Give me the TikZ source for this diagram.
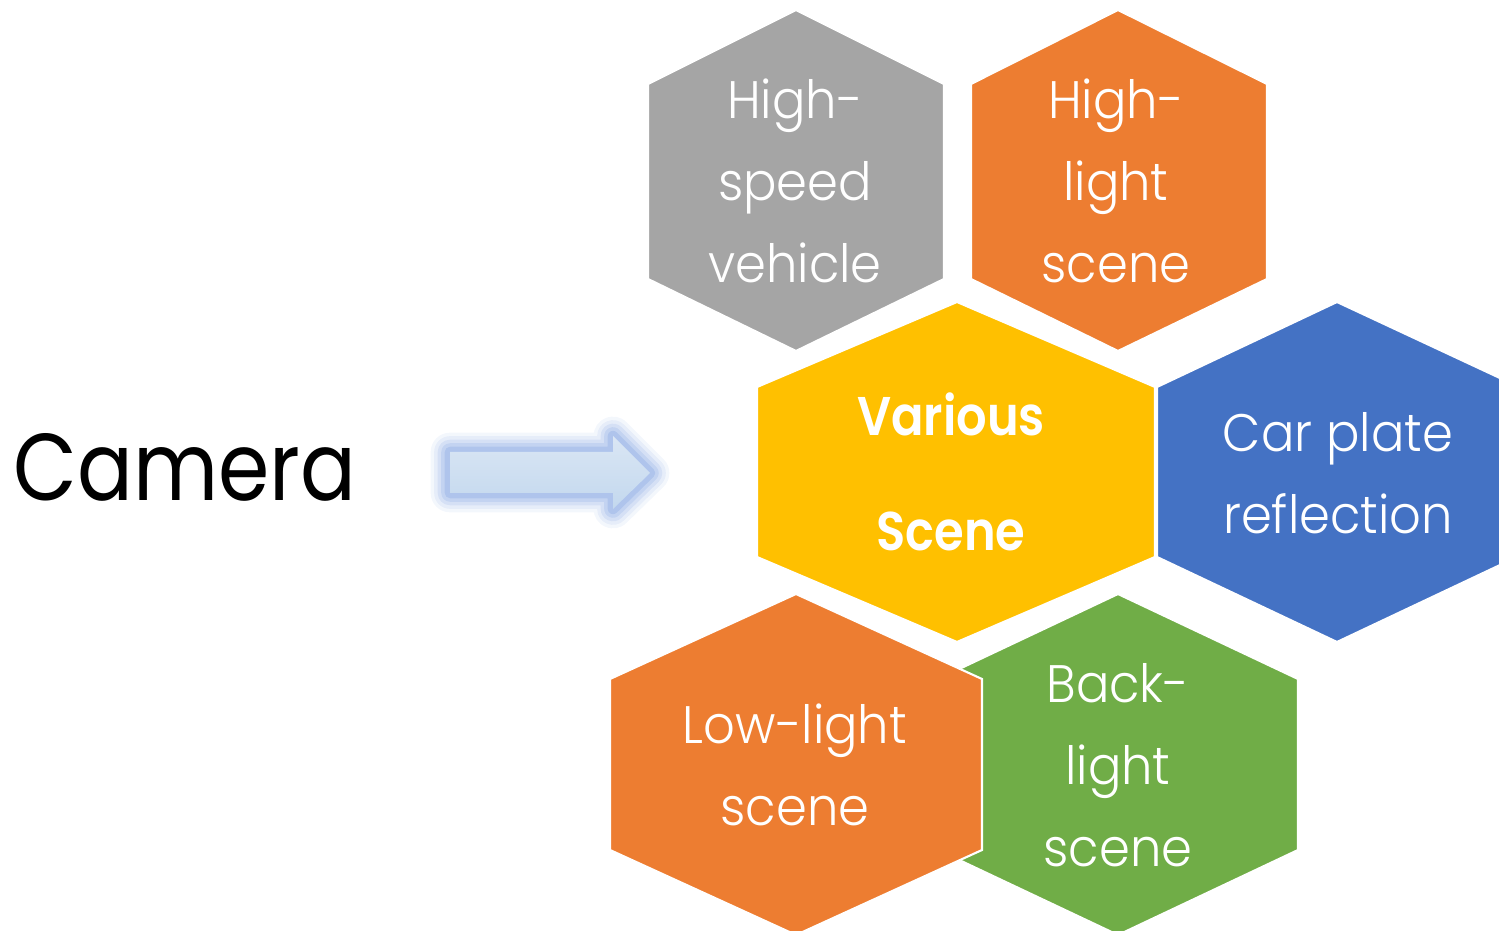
\documentclass[tikz,border=0pt]{standalone}
\usepackage{fontspec}
\setmainfont{Poppins}
\newfontfamily\camfont{Poppins}[FakeStretch=0.87]
\newfontfamily\lightfont{Poppins Light}[FakeStretch=0.94]
\newfontfamily\semibfont{Poppins SemiBold}[FakeStretch=0.88]
\usetikzlibrary{positioning}

\definecolor{hexgray}{HTML}{A5A5A5}
\definecolor{hexorange}{HTML}{ED7D31}
\definecolor{hexyellow}{HTML}{FFC000}
\definecolor{hexblue}{HTML}{4472C4}
\definecolor{hexgreen}{HTML}{70AD47}
\definecolor{glowblue}{HTML}{5B87D8}
\definecolor{arrowtop}{HTML}{DAE6F4}
\definecolor{arrowbottom}{HTML}{C3D8EE}

\begin{document}
\begin{tikzpicture}[x=0.01cm,y=-0.01cm,
                hexa/.style={draw=white,line width=0.6pt},
                hexlabel/.style={text=white,align=center,font=\lightfont\fontsize{15}{23.3}\selectfont}
                ]
                \useasboundingbox (0,0) rectangle (1499,931);
                \clip (0,0) rectangle (1499,931);
                % hexagons
                \draw [hexa,fill=hexgray] (796,10) -- (944,84) -- (944,279) -- (796,351) -- (648,279) -- (648,84) -- cycle;
                \draw [hexa,fill=hexorange] (1118,10) -- (1267,84) -- (1267,279) -- (1118,351) -- (971,279) -- (971,84) -- cycle;
                \draw [hexa,fill=hexyellow] (957,302) -- (1155,387) -- (1155,557) -- (957,642) -- (757,557) -- (757,387) -- cycle;
                \draw [hexa,fill=hexblue] (1337,302) -- (1517,386) -- (1517,557) -- (1337,642) -- (1157,557) -- (1157,387) -- cycle;
                \draw [hexa,fill=hexgreen] (1118,594) -- (1298,679) -- (1298,850) -- (1118,935) -- (938,850) -- (938,679) -- cycle;
                \draw [hexa,fill=hexorange] (796,594) -- (982,679) -- (982,850) -- (796,935) -- (610,850) -- (610,679) -- cycle;
                % labels
                \node [hexlabel] (speed) at (795,181) {High-\\speed\\vehicle};
                \node [hexlabel] (highlight) at (1116,181) {High-\\light\\scene};
                \node [hexlabel,font=\semibfont\fontsize{15.5}{23.3}\selectfont] (various) at (951,472) {Various\\[9.5pt]Scene};
                \node [hexlabel] (plate) at (1338,473) {Car plate\\reflection};
                \node [hexlabel] (lowlight) at (795,765) {Low-light\\scene};
                \node [hexlabel] (backlight) at (1118,765) {Back-\\light\\scene};
                \node [font=\camfont\fontsize{27}{32}\selectfont] (camera) at (185,467) {Camera};
                % block arrow with glow
                \foreach \w/\o in {11/0.07,9/0.09,7/0.12,5/0.15,3/0.2}
                    \draw [glowblue,line width=\w pt,opacity=\o,line join=round] (450,452) -- (613,452) -- (613,436) -- (650,473) -- (613,509) -- (613,493) -- (450,493) -- cycle;
                \shade [top color=arrowtop,bottom color=arrowbottom] (450,452) -- (613,452) -- (613,436) -- (650,473) -- (613,509) -- (613,493) -- (450,493) -- cycle;
            \end{tikzpicture}
\end{document}
